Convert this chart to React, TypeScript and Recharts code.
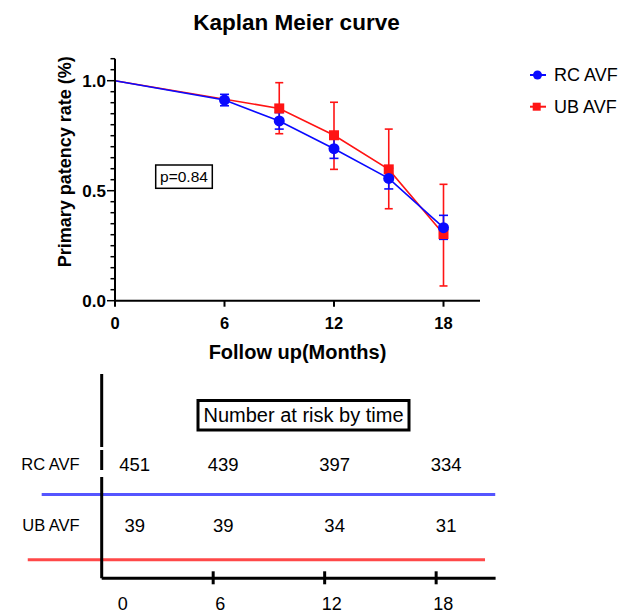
import React from 'react';
import {
  LineChart,
  Line,
  XAxis,
  YAxis,
  ErrorBar,
  ScatterChart,
  Scatter,
  ReferenceLine,
} from 'recharts';

const FONT = "Arial, 'Liberation Sans', Helvetica, sans-serif";
const BLUE = '#0a0aff';
const RED = '#ff1414';

// Kaplan Meier estimates (with CI bounds) per follow-up month
const months = [0, 6, 9, 12, 15, 18];
const rcRate = [1.0, 0.912, 0.817, 0.691, 0.556, 0.332];
const rcLow = [null, 0.886, 0.78, 0.647, 0.508, 0.279];
const rcHigh = [null, 0.938, 0.855, 0.735, 0.602, 0.388];
// UB AVF has no step at month 6
const ubRate = [1.0, null, 0.874, 0.752, 0.597, 0.303];
const ubLow = [null, null, 0.759, 0.597, 0.418, 0.067];
const ubHigh = [null, null, 0.991, 0.902, 0.78, 0.529];

const xTicks = [0, 6, 12, 18];
const yMajorTicks = [0, 0.5, 1.0];

// number at risk table
const riskMonths = [0, 6, 12, 18];
const rcAtRisk = [451, 439, 397, 334];
const ubAtRisk = [39, 39, 34, 31];
const groupNames = ['UB AVF', 'RC AVF']; // row 0 = UB, row 1 = RC

const yTicks = Array.from({ length: 23 }, (_, i) => Math.round(i * 5) / 100);

const err = (v: number | null, lo: number | null, hi: number | null) =>
  v == null || lo == null || hi == null ? null : [v - lo, hi - v];

const curveData = months.map((m, i) => ({
  month: m,
  rc: rcRate[i],
  ub: ubRate[i],
  rcErr: err(rcRate[i], rcLow[i], rcHigh[i]),
  ubErr: err(ubRate[i], ubLow[i], ubHigh[i]),
}));

const rcRiskPoints = riskMonths.map((m, i) => ({ month: m, row: 1, n: rcAtRisk[i] }));
const ubRiskPoints = riskMonths.map((m, i) => ({ month: m, row: 0, n: ubAtRisk[i] }));

const RISK_LEFT = 101.7;

const YTick = (props: any) => {
  const { x, y, payload } = props;
  const v = payload.value;
  const major = yMajorTicks.some((t) => Math.abs(t - v) < 1e-6);
  return (
    <g>
      <line x1={x} x2={x - (major ? 8 : 4.5)} y1={y} y2={y} stroke="#000" strokeWidth={1.5} />
      {major && (
        <text x={x - 9} y={y} dy="0.36em" textAnchor="end" fontSize={17} fontWeight="bold" fontFamily={FONT} fill="#000">
          {v.toFixed(1)}
        </text>
      )}
    </g>
  );
};

const XTick = (props: any) => {
  const { x, y, payload } = props;
  return (
    <g>
      <line x1={x} x2={x} y1={y} y2={y + 6} stroke="#000" strokeWidth={2} />
      <text x={x} y={y + 22} dy="0.36em" textAnchor="middle" fontSize={16.5} fontWeight="bold" fontFamily={FONT} fill="#000">
        {payload.value}
      </text>
    </g>
  );
};

const RiskTick = (props: any) => {
  const { x, y, payload } = props;
  const v = payload.value;
  return (
    <g>
      {v !== 0 && <line x1={x} x2={x} y1={y - 7} y2={y + 6} stroke="#000" strokeWidth={3} />}
      <text x={v === 0 ? x + 21 : x + 7} y={y + 25} dy="0.36em" textAnchor="middle" fontSize={18} fontFamily={FONT} fill="#000">
        {v}
      </text>
    </g>
  );
};

const CountLabel = (props: any) => {
  const { cx, cy, payload } = props;
  // first column sits right of the axis line
  const x = Math.max(cx + 10, RISK_LEFT + 33);
  return (
    <text x={x} y={cy} dy="0.36em" textAnchor="middle" fontSize={18.5} fontFamily={FONT} fill="#000">
      {payload.n}
    </text>
  );
};

const blueDot = (p: any) =>
  p.payload.month === 0 || p.cy == null ? (
    <g key={`rc-${p.index}`} />
  ) : (
    <circle key={`rc-${p.index}`} cx={p.cx} cy={p.cy} r={5.5} fill={BLUE} />
  );

const redDot = (p: any) =>
  p.payload.month === 0 || p.payload.ub == null ? (
    <g key={`ub-${p.index}`} />
  ) : (
    <rect key={`ub-${p.index}`} x={p.cx - 5} y={p.cy - 5} width={10} height={10} fill={RED} />
  );

export default function App() {
  return (
    <div style={{ position: 'absolute', left: 0, top: 0, width: 629, height: 614, background: '#fff', fontFamily: FONT }}>
      <div style={{ position: 'absolute', left: 0, top: 0 }}>
        <LineChart width={629} height={370} data={curveData} margin={{ top: 58.7, right: 149, bottom: 9.3, left: 65 }}>
          <XAxis
            dataKey="month"
            type="number"
            domain={[0, 20]}
            ticks={xTicks}
            interval={0}
            tickSize={0}
            tickMargin={0}
            tickLine={false}
            tick={XTick}
            axisLine={{ stroke: '#000', strokeWidth: 2 }}
            height={60}
            label={{
              value: 'Follow up(Months)',
              position: 'insideBottom',
              offset: 1.7,
              style: { fontSize: 20, fontWeight: 'bold', fontFamily: FONT, fill: '#000' },
            }}
          />
          <YAxis
            type="number"
            domain={[0, 1.1]}
            allowDataOverflow
            ticks={yTicks}
            interval={0}
            width={50}
            tickSize={0}
            tickMargin={0}
            tickLine={false}
            tick={YTick}
            axisLine={{ stroke: '#000', strokeWidth: 2 }}
            label={{
              value: 'Primary patency rate (%)',
              angle: -90,
              position: 'insideLeft',
              offset: 0,
              dy: -18,
              style: { textAnchor: 'middle', fontSize: 18, fontWeight: 'bold', fontFamily: FONT, fill: '#000' },
            }}
          />
          <Line dataKey="ub" name="UB AVF" stroke={RED} strokeWidth={1.6} dot={redDot} activeDot={false} connectNulls isAnimationActive={false}>
            <ErrorBar dataKey="ubErr" direction="y" width={4} stroke={RED} strokeWidth={1.6} />
          </Line>
          <Line dataKey="rc" name="RC AVF" stroke={BLUE} strokeWidth={1.6} dot={blueDot} activeDot={false} isAnimationActive={false}>
            <ErrorBar dataKey="rcErr" direction="y" width={4.5} stroke={BLUE} strokeWidth={1.6} />
          </Line>
        </LineChart>
      </div>

      <div style={{ position: 'absolute', left: 0, top: 360 }}>
        <ScatterChart width={629} height={254} margin={{ top: 14, right: 133.4, bottom: 5.7, left: 41.7 }}>
          <XAxis
            dataKey="month"
            type="number"
            domain={[0, 21.2]}
            ticks={riskMonths}
            interval={0}
            tickSize={0}
            tickMargin={0}
            tickLine={false}
            tick={RiskTick}
            axisLine={{ stroke: '#000', strokeWidth: 3 }}
            height={30}
          />
          <YAxis
            dataKey="row"
            type="number"
            domain={[-0.874, 2.475]}
            allowDataOverflow
            ticks={[0, 1]}
            interval={0}
            width={60}
            tickSize={0}
            tickMargin={22}
            tickLine={false}
            tickFormatter={(v: number) => groupNames[v]}
            tick={{ fill: '#000', fontSize: 16.5, fontFamily: FONT }}
            axisLine={{ stroke: '#000', strokeWidth: 3, strokeDasharray: '73 3 20 7 400' }}
          />
          <ReferenceLine
            segment={[{ x: -3.23, y: 0.5 }, { x: 21.18, y: 0.5 }]}
            stroke="#5555ff"
            strokeWidth={3}
            ifOverflow="visible"
          />
          <ReferenceLine
            segment={[{ x: -3.98, y: -0.57 }, { x: 20.63, y: -0.57 }]}
            stroke="#ff4848"
            strokeWidth={3}
            ifOverflow="visible"
          />
          <Scatter data={rcRiskPoints} dataKey="row" shape={CountLabel} isAnimationActive={false} />
          <Scatter data={ubRiskPoints} dataKey="row" shape={CountLabel} isAnimationActive={false} />
        </ScatterChart>
      </div>

      <svg width={629} height={614} style={{ position: 'absolute', left: 0, top: 0, pointerEvents: 'none' }}>
        <text x={296.5} y={30} textAnchor="middle" fontSize={22.5} fontWeight="bold" fontFamily={FONT} fill="#000">
          Kaplan Meier curve
        </text>
        {/* legend */}
        <line x1={530} x2={546} y1={75} y2={75} stroke={BLUE} strokeWidth={2} />
        <circle cx={537.5} cy={75} r={4.5} fill={BLUE} />
        <text x={554} y={75} dy="0.36em" fontSize={18} fontFamily={FONT} fill="#000">RC AVF</text>
        <line x1={530} x2={546} y1={106.7} y2={106.7} stroke={RED} strokeWidth={2} />
        <rect x={532.7} y={102.7} width={8} height={8} fill={RED} />
        <text x={554} y={106.7} dy="0.36em" fontSize={18} fontFamily={FONT} fill="#000">UB AVF</text>
        {/* p value box */}
        <rect x={155.7} y={165} width={56.6} height={23.3} fill="none" stroke="#000" strokeWidth={1.5} />
        <text x={184} y={176.7} dy="0.36em" textAnchor="middle" fontSize={15.5} fontFamily={FONT} fill="#000">p=0.84</text>
        {/* risk table title */}
        <rect x={198} y={400.5} width={211} height={29.5} fill="none" stroke="#000" strokeWidth={3} />
        <text x={303.5} y={415.2} dy="0.36em" textAnchor="middle" fontSize={20} fontFamily={FONT} fill="#000">
          Number at risk by time
        </text>
      </svg>
    </div>
  );
}
